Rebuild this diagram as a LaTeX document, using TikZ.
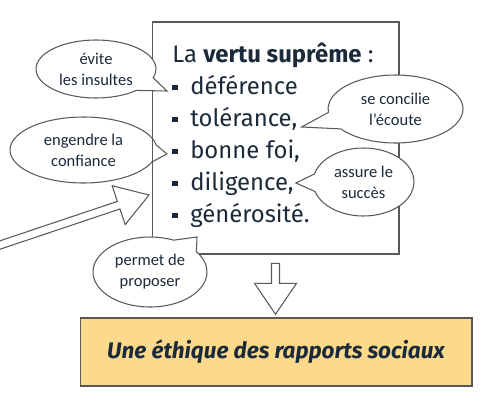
\documentclass[tikz,border=0pt]{standalone}
\usepackage{fontspec}
\setmainfont{Fira Sans}
\newfontfamily\policebulle{Carlito}
\usetikzlibrary{shapes.callouts, calc}
\definecolor{encre}{HTML}{1B2A3A}
\definecolor{trait}{HTML}{595959}
\definecolor{orangepale}{HTML}{FDD98C}
\newcommand\puce{\makebox[10.2pt][l]{\rule[2pt]{3pt}{3pt}}}

\begin{document}
\begin{tikzpicture}[
  x = 0.02cm, y = -0.02cm,
  ligne/.style = {anchor = base west, inner sep = 0pt, text = encre,
                  font = \fontsize{13.6}{17}\selectfont},
  bulle/.style = {ellipse callout, draw = trait, fill = white, line width = 0.6pt,
                  inner sep = 0pt, align = center, text = encre,
                  font = \policebulle\fontsize{9.4}{12}\selectfont,
                  callout pointer arc = 30},
  cadre/.style = {draw = trait, line width = 0.6pt,
                  minimum width = 4.94cm, minimum height = 4.64cm},
  bandeau/.style = {draw = trait, fill = orangepale, line width = 0.6pt,
                    minimum width = 7.84cm, minimum height = 1.36cm, text = encre,
                    font = \fontsize{12.8}{15}\selectfont\bfseries\itshape},
  bloc/.style = {draw = trait, fill = white, line width = 0.6pt, line join = miter},
  ]
  \useasboundingbox (0,0) rectangle (502,402);

  \node[ligne] (vertu) at (172,62) {La \textbf{vertu suprême} :};
  \foreach \nom/\mot [count = \i] in {def/déférence, tol/{tolérance,}, bon/{bonne foi,},
                                      dil/{diligence,}, gen/{générosité.}}
    \node[ligne] (\nom) at (172, 62+32*\i) {\puce\mot};

  \node[bulle, minimum width = 2.94cm, minimum height = 1.32cm,
        callout absolute pointer = {($(bon.base west)+(-5,-4)$)}]
    (confiance) at (83.5,150) {engendre la\\confiance};

  \node[cadre] (cadre) at (275.5,138) {};

  \node[bulle, minimum width = 2.4cm, minimum height = 1.16cm,
        callout absolute pointer = {($(def.base west)+(-5,-3)$)}]
    (insultes) at (96,69) {évite\\les insultes};
  \node[bulle, minimum width = 2.7cm, minimum height = 1.36cm,
        callout absolute pointer = {($(tol.base east)+(4,1)$)}]
    (ecoute) at (395.5,109) {se concilie\\l’écoute};
  \node[bulle, minimum width = 2.02cm, minimum height = 1.36cm,
        callout absolute pointer = {($(dil.base east)+(2,-7)$)}]
    (succes) at (363.5,182) {assure le\\succès};
  \node[bulle, minimum width = 2.28cm, minimum height = 1.4cm,
        callout absolute pointer = {($(gen.base west)+(25,15)$)}]
    (proposer) at (150,272) {permet de\\proposer};

  \draw[bloc, shift = {(149,195)}, rotate = 18.55]
    (0,0) -- (-32,-20.5) -- (-32,-4) -- (-220,-4) -- (-220,4) -- (-32,4) -- (-32,20.5) -- cycle;

  \node[bandeau] (ethique) at (276,352) {Une éthique des rapports sociaux};

  \draw[bloc] ([yshift = -5pt]cadre.south) ++(-4,0) -- ++(8,0) -- ++(0,20) -- ++(17,0)
    -- ++(-21,31) -- ++(-21,-31) -- ++(17,0) -- cycle;
\end{tikzpicture}
\end{document}
